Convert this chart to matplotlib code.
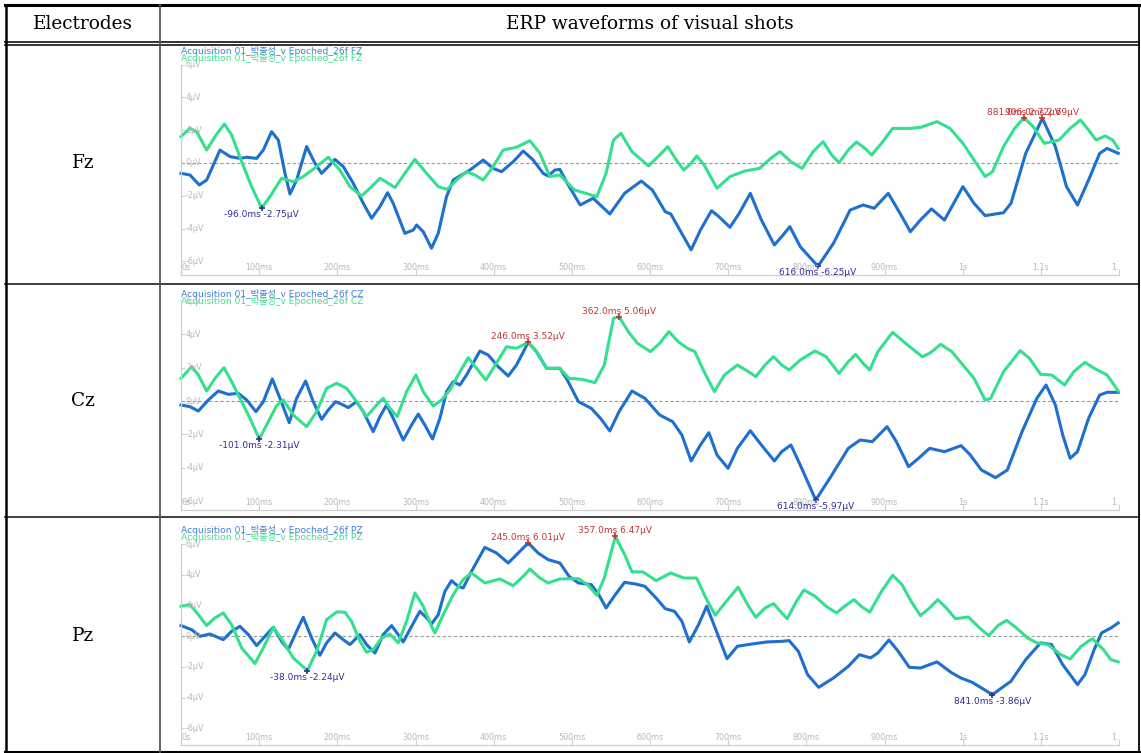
import numpy as np
import matplotlib
matplotlib.use("Agg")
import matplotlib.pyplot as plt
import matplotlib.transforms as mtransforms

# ---------------- data (ms on the recorder axis, uV) ----------------
fz_blue_t = [0, 11.5, 23.4, 32.8, 49.9, 62.7, 75.4, 84.0, 96.8, 105.3, 115.9, 124.5, 133.0, 139.4,
             147.9, 160.7, 171.4, 179.9, 188.4, 196.9, 207.6, 220.4, 233.2, 243.8, 254.5, 264.3,
             271.5, 286.4, 297.1, 301.4, 309.9, 320.5, 329.1, 339.7, 348.3, 358.9, 369.6, 386.6,
             399.4, 410.1, 425.0, 437.8, 450.6, 463.3, 469.7, 478.3, 484.7, 494.2, 510.7, 527.3,
             548.6, 567.5, 588.8, 603.0, 619.5, 626.6, 652.6, 664.5, 678.6, 688.1, 702.3, 714.1,
             728.3, 742.5, 759.1, 768.5, 778.9, 792.2, 814.9, 834.7, 856.0, 872.6, 886.8, 904.8,
             919.9, 933.1, 945.9, 960.1, 976.7, 988.5, 1000.3, 1014.5, 1028.7, 1052.3, 1061.8,
             1080.7, 1102.0, 1118.6, 1132.8, 1146.9, 1161.1, 1175.3, 1184.8, 1199.0]
fz_blue_v = [-0.63, -0.73, -1.34, -1.04, 0.79, 0.39, 0.28, 0.35, 0.28, 0.79, 1.91, 1.40, -0.63, -1.89,
             -1.04, 1.00, -0.02, -0.63, -0.22, 0.22, -0.22, -1.24, -2.46, -3.37, -2.66, -1.81,
             -2.46, -4.29, -4.09, -3.78, -4.19, -5.20, -4.29, -2.05, -1.04, -0.73, -0.43, 0.18,
             -0.33, -0.53, 0.08, 0.73, 0.18, -0.63, -0.79, -0.43, -0.39, -1.24, -2.56, -2.15,
             -3.11, -1.85, -1.10, -1.65, -2.97, -3.11, -5.30, -4.09, -2.91, -3.27, -3.92, -3.07,
             -1.85, -3.48, -5.00, -4.49, -3.88, -5.10, -6.30, -4.90, -2.87, -2.56, -2.76, -1.85,
             -3.07, -4.19, -3.48, -2.80, -3.48, -2.46, -1.44, -2.46, -3.21, -3.03, -2.46,
             0.59, 2.72, 1.00, -1.44, -2.56, -1.04, 0.59, 0.89, 0.59]

fz_green_t = [0, 11.5, 20.0, 32.8, 43.5, 55.4, 64.8, 77.6, 90.4, 103.2, 113.8, 128.7, 143.6, 156.4,
              173.5, 188.4, 203.3, 216.1, 231.0, 241.7, 254.5, 265.1, 273.7, 286.4, 299.2, 314.2,
              329.1, 340.6, 352.5, 365.3, 376.0, 386.6, 399.4, 412.2, 429.2, 446.3, 459.1, 471.9,
              484.7, 503.6, 517.8, 532.0, 543.8, 553.3, 562.8, 576.9, 598.2, 612.4, 622.8, 633.7,
              643.2, 652.6, 659.7, 669.2, 685.7, 702.3, 721.2, 740.1, 754.3, 766.2, 780.3, 794.5,
              808.7, 821.5, 832.4, 841.8, 853.7, 864.1, 875.0, 883.5, 896.2, 910.4, 931.7, 945.9,
              967.2, 983.8, 1000.3, 1014.5, 1028.7, 1038.1, 1052.3, 1066.5, 1078.4, 1090.2,
              1104.4, 1123.3, 1137.5, 1150.7, 1161.1, 1170.6, 1182.4, 1191.9, 1199.0]
fz_green_v = [1.61, 2.11, 1.91, 0.79, 1.61, 2.38, 1.71, 0.08, -1.44, -2.76, -2.05, -0.93, -1.14, -0.83,
              -0.22, 0.35, -0.43, -1.44, -2.01, -1.54, -0.93, -1.24, -1.50, -0.63, 0.22, -0.63,
              -1.44, -1.61, -1.04, -0.53, -0.73, -1.04, -0.22, 0.79, 0.96, 1.36, 0.59, -0.83,
              -0.73, -1.65, -1.85, -2.05, -0.63, 1.40, 1.81, 0.69, -0.18, 0.49, 1.00, 0.18,
              -0.43, -0.02, 0.43, -0.12, -1.54, -0.83, -0.49, -0.33, 0.28, 0.69, 0.08, -0.33,
              0.69, 1.30, 0.49, 0.02, 0.79, 1.28, 0.89, 0.49, 1.20, 2.11, 2.11, 2.17,
              2.52, 2.11, 1.20, 0.18, -0.83, -0.53, 1.00, 2.11, 2.76, 2.22,
              1.20, 1.40, 2.11, 2.62, 2.01, 1.40, 1.65, 1.40, 0.89]

cz_blue_t = [0, 11.5, 22.2, 35.0, 47.7, 60.5, 73.3, 84.0, 95.9, 105.3, 116.8, 126.6, 138.5, 147.9,
             159.4, 169.2, 179.9, 188.4, 197.8, 207.6, 214.0, 224.6, 233.2, 245.9, 254.5, 263.0,
             271.5, 284.3, 295.0, 303.5, 312.0, 321.8, 331.2, 339.7, 348.3, 356.8, 365.3, 382.4,
             393.0, 405.8, 418.6, 429.2, 444.2, 454.8, 467.6, 476.1, 484.7, 494.2, 508.4, 524.9,
             536.7, 548.6, 560.4, 576.9, 593.5, 612.4, 629.0, 640.8, 652.6, 664.5, 675.3, 685.7,
             699.9, 711.8, 728.3, 742.5, 759.1, 768.5, 780.3, 792.2, 812.0, 830.0, 853.7, 868.8,
             884.4, 903.3, 915.2, 930.8, 943.5, 957.7, 976.7, 998.0, 1009.8, 1024.0, 1042.0,
             1057.1, 1076.0, 1094.9, 1106.7, 1118.6, 1128.0, 1137.5, 1146.9, 1161.1, 1175.3,
             1184.8, 1199.0]
cz_blue_v = [-0.24, -0.34, -0.60, 0.06, 0.60, 0.40, 0.46, 0.06, -0.64, -0.04, 1.32, 0.16, -1.30, 0.16,
             1.20, -0.04, -1.10, -0.54, -0.04, -0.24, -0.40, -0.04, -0.64, -1.84, -0.94, -0.24,
             -1.04, -2.34, -1.44, -0.78, -1.44, -2.28, -1.04, 0.56, 1.16, 0.96, 1.56, 3.00,
             2.76, 2.06, 1.50, 2.16, 3.52, 2.96, 1.96, 1.96, 1.96, 1.26, -0.04, -0.44,
             -1.04, -1.80, -0.64, 0.60, 0.16, -0.84, -1.24, -2.04, -3.60, -2.64, -1.90, -3.24,
             -4.04, -2.84, -1.78, -2.64, -3.60, -3.04, -2.64, -3.84, -5.94, -4.64, -2.84, -2.34,
             -2.44, -1.54, -2.44, -3.94, -3.44, -2.84, -3.04, -2.68, -3.24, -4.14, -4.60,
             -4.14, -1.84, 0.16, 0.96, -0.24, -2.04, -3.44, -3.04, -1.04, 0.36,
             0.52, 0.52]

cz_green_t = [0, 13.6, 22.2, 32.8, 43.5, 55.0, 64.8, 75.4, 88.2, 100.2, 109.5, 122.3, 130.9, 143.6,
              160.7, 173.5, 186.3, 199.1, 211.9, 224.6, 237.4, 250.2, 258.7, 267.3, 276.6, 288.6,
              300.5, 309.9, 322.7, 333.3, 344.0, 354.6, 367.4, 378.1, 390.0, 399.4, 416.5, 429.2,
              444.2, 454.8, 467.6, 484.7, 496.5, 513.1, 529.6, 541.5, 553.3, 560.4, 572.2, 584.0,
              600.6, 612.4, 624.2, 636.1, 647.9, 657.4, 669.2, 682.4, 695.2, 711.8, 726.0, 735.4,
              747.2, 758.1, 768.5, 778.0, 792.2, 811.1, 825.3, 841.8, 853.7, 863.1, 872.6, 881.1,
              891.5, 910.4, 927.0, 948.3, 957.7, 971.9, 986.1, 1000.3, 1014.5, 1028.7, 1035.8,
              1052.3, 1073.6, 1085.5, 1099.7, 1113.8, 1130.4, 1142.2, 1156.4, 1168.2, 1184.8,
              1199.0]
cz_green_v = [1.36, 2.06, 1.56, 0.60, 1.36, 2.00, 1.16, 0.16, -1.04, -2.28, -1.44, -0.28, 0.06, -0.84,
              -1.54, -0.64, 0.76, 1.06, 0.76, -0.04, -0.94, -0.24, 0.16, -0.44, -0.94, 0.56,
              1.56, 0.56, -0.30, 0.06, 0.66, 1.56, 2.60, 1.96, 1.26, 1.96, 3.26, 3.16,
              3.52, 2.96, 1.96, 1.96, 1.36, 1.30, 1.10, 2.16, 4.96, 5.06, 4.16, 3.46,
              2.96, 3.46, 4.16, 3.56, 3.16, 2.96, 1.76, 0.56, 1.56, 2.16, 1.76, 1.46,
              2.16, 2.66, 2.16, 1.86, 2.46, 3.00, 2.66, 1.66, 2.36, 2.80, 2.26, 1.86,
              2.96, 4.12, 3.46, 2.66, 2.86, 3.40, 2.96, 2.16, 1.36, 0.06, 0.16,
              1.76, 3.02, 2.56, 1.60, 1.56, 0.96, 1.76, 2.32, 1.96, 1.56,
              0.60]

pz_blue_t = [0, 13.6, 24.3, 37.1, 54.1, 64.8, 75.4, 86.1, 96.8, 107.4, 118.1, 128.7, 137.3, 147.9,
             156.4, 167.1, 177.7, 186.3, 196.9, 207.6, 216.1, 228.9, 237.4, 248.1, 258.7, 269.4,
             277.9, 284.3, 295.0, 305.6, 314.2, 320.5, 329.1, 337.6, 346.1, 354.6, 361.0, 371.7,
             388.7, 403.7, 418.6, 431.4, 444.2, 456.9, 469.7, 484.7, 496.5, 508.4, 524.9, 534.4,
             543.8, 555.7, 567.5, 581.7, 593.5, 607.7, 619.5, 631.3, 640.8, 650.3, 662.1, 672.5,
             683.4, 698.5, 711.8, 730.7, 749.6, 768.5, 778.0, 789.8, 801.6, 815.8, 834.7, 853.7,
             867.9, 882.1, 891.5, 905.7, 917.5, 931.7, 945.9, 967.2, 986.1, 997.9, 1012.1,
             1038.1, 1061.8, 1080.7, 1099.7, 1113.8, 1128.0, 1146.9, 1156.4, 1168.2, 1177.7,
             1189.5, 1199.0]
pz_blue_v = [0.70, 0.43, 0.00, 0.15, -0.22, 0.33, 0.65, 0.11, -0.61, 0.00, 0.59, -0.33, -0.87, 0.33,
             1.24, -0.11, -1.24, -0.43, 0.22, -0.22, -0.54, 0.11, -0.54, -1.09, 0.11, 0.70,
             0.11, -0.37, 0.65, 1.63, 1.20, 0.80, 1.41, 2.93, 3.63, 3.26, 3.15, 4.24,
             5.80, 5.43, 4.78, 5.43, 6.09, 5.43, 5.00, 4.78, 3.91, 3.48, 3.37, 2.72,
             1.85, 2.72, 3.52, 3.41, 3.26, 2.50, 1.80, 1.63, 0.98, -0.37, 0.76, 1.96,
             0.54, -1.46, -0.65, -0.50, -0.37, -0.33, -0.28, -0.98, -2.50, -3.33, -2.72, -1.96,
             -1.20, -1.41, -1.09, -0.24, -0.98, -2.02, -2.07, -1.67, -2.39, -2.72, -3.00,
             -3.80, -2.93, -1.52, -0.43, -0.54, -1.85, -3.15, -2.50, -0.87, 0.22,
             0.54, 0.87]

pz_green_t = [0, 11.5, 22.2, 32.8, 43.5, 54.1, 64.8, 77.6, 94.6, 105.3, 118.1, 130.9, 143.6, 161.6,
              173.5, 186.3, 199.1, 209.7, 218.2, 228.9, 237.4, 246.0, 256.6, 267.3, 277.9, 288.6,
              299.2, 309.9, 320.5, 324.8, 335.5, 348.3, 361.0, 371.7, 388.7, 407.9, 425.0, 437.8,
              446.3, 459.1, 469.7, 484.7, 508.4, 520.2, 532.0, 541.5, 555.7, 567.5, 576.9, 591.1,
              607.7, 626.6, 643.2, 659.7, 671.5, 683.4, 697.6, 712.7, 726.0, 735.4, 747.2, 758.1,
              768.5, 775.6, 787.4, 796.9, 811.1, 825.3, 838.5, 849.0, 860.8, 870.2, 881.1, 896.2,
              910.4, 922.3, 934.1, 945.9, 957.7, 968.1, 979.0, 990.8, 1007.4, 1021.6, 1033.4,
              1045.2, 1056.1, 1068.9, 1083.1, 1094.9, 1109.1, 1125.6, 1137.5, 1151.7, 1165.9,
              1180.1, 1189.5, 1199.0]
pz_green_v = [1.96, 2.07, 1.41, 0.70, 1.20, 1.52, 0.76, -0.76, -1.78, -0.76, 0.59, -0.33, -1.41, -2.24,
              -0.98, 1.09, 1.59, 1.57, 0.98, -0.33, -1.04, -0.87, -0.11, 0.15, -0.43, 0.98,
              2.83, 1.96, 0.65, 0.22, 1.41, 2.72, 3.70, 4.13, 3.48, 3.74, 3.30, 3.91,
              4.39, 3.80, 3.48, 3.74, 3.76, 3.37, 2.67, 3.80, 6.52, 5.33, 4.20, 4.20,
              3.63, 4.13, 3.80, 3.80, 2.50, 1.37, 2.28, 3.20, 1.96, 1.24, 1.85, 2.13,
              1.52, 1.15, 2.28, 3.02, 2.61, 1.96, 1.52, 1.96, 2.39, 1.96, 1.57, 2.93,
              3.98, 3.37, 2.28, 1.35, 1.85, 2.39, 1.85, 1.15, 1.26, 0.54, 0.04,
              0.70, 1.04, 0.54, -0.11, -0.43, -0.54, -1.20, -1.48, -0.65, -0.15,
              -0.87, -1.52, -1.67]

# peak labels: text, time, amplitude, polarity
fz_marks = [("-96.0ms -2.75µV", 103.2, -2.76, "neg"), ("616.0ms -6.25µV", 814.9, -6.30, "neg"),
            ("881.0ms 2.72µV", 1078.4, 2.76, "pos"), ("906.0ms 2.69µV", 1102.0, 2.72, "pos")]
cz_marks = [("-101.0ms -2.31µV", 100.2, -2.28, "neg"), ("246.0ms 3.52µV", 444.2, 3.52, "pos"),
            ("362.0ms 5.06µV", 560.4, 5.06, "pos"), ("614.0ms -5.97µV", 812.0, -5.94, "neg")]
pz_marks = [("-38.0ms -2.24µV", 161.6, -2.24, "neg"), ("245.0ms 6.01µV", 444.2, 6.09, "pos"),
            ("357.0ms 6.47µV", 555.7, 6.52, "pos"), ("841.0ms -3.86µV", 1038.1, -3.80, "neg")]

x_ticks = [0, 100, 200, 300, 400, 500, 600, 700, 800, 900, 1000, 1100, 1200]
x_labels = ["0s", "100ms", "200ms", "300ms", "400ms", "500ms", "600ms", "700ms", "800ms",
            "900ms", "1s", "1.1s", "1."]
y_ticks = [6, 4, 2, 0, -2, -4, -6]
y_labels = ["6µV", "4µV", "2µV", "0µV", "-2µV", "-4µV", "-6µV"]

electrodes = ["Fz", "Cz", "Pz"]
channels = ["FZ", "CZ", "PZ"]
legend_name = "Acquisition 01_박줄성_v Epoched_26f "

# ---------------- layout (pixels) ----------------
W, H = 1141, 753
AX_L, AX_R = 181, 1119
# top of axes (6uV), bottom axis line, ymin, row centre, legend y
panels = [
    dict(top=64.6, bottom=275, ymin=-6.83, mid=163, leg=(51, 58)),
    dict(top=301, bottom=510, ymin=-6.54, mid=401, leg=(294, 301)),
    dict(top=544.3, bottom=745, ymin=-7.09, mid=636, leg=(530, 537)),
]
series = [(fz_blue_t, fz_blue_v, fz_green_t, fz_green_v, fz_marks),
          (cz_blue_t, cz_blue_v, cz_green_t, cz_green_v, cz_marks),
          (pz_blue_t, pz_blue_v, pz_green_t, pz_green_v, pz_marks)]

BLUE = "#1f6fcf"
GREEN = "#34e08e"
LEG_BLUE = "#3f80cc"
LEG_GREEN = "#3fdf90"
NEG_C = "#2d2d92"
POS_C = "#c23434"
TICK_C = "#b8b8b8"
AXIS_C = "#cfcfcf"
SANS = ["DejaVu Sans", "Noto Sans CJK KR"]

fig = plt.figure(figsize=(W / 100, H / 100), dpi=100)
bg = fig.add_axes([0, 0, 1, 1])
bg.set_xlim(0, W)
bg.set_ylim(H, 0)
bg.axis("off")

# table frame
bg.plot([5, 1139], [5, 5], color="black", lw=2.2)
bg.plot([5, 1139], [41.5, 41.5], color="#222222", lw=1.3)
bg.plot([5, 1139], [44.5, 44.5], color="#222222", lw=1.3)
bg.plot([5, 1139], [284, 284], color="#333333", lw=1.3)
bg.plot([5, 1139], [516.5, 516.5], color="#333333", lw=1.3)
bg.plot([5, 1139], [751.5, 751.5], color="black", lw=2.2)
bg.plot([6, 6], [5, 751.5], color="black", lw=1.8)
bg.plot([160, 160], [5, 751.5], color="#555555", lw=1.3)
bg.plot([1139, 1139], [5, 751.5], color="black", lw=1.3)

bg.text(83, 24, "Electrodes", ha="center", va="center", family="DejaVu Serif", fontsize=13.3)
bg.text(650, 24, "ERP waveforms of visual shots", ha="center", va="center",
        family="DejaVu Serif", fontsize=13.3)

for p, (bt, bv, gt, gv, marks), el, ch in zip(panels, series, electrodes, channels):
    bg.text(83, p["mid"], el, ha="center", va="center", family="DejaVu Serif", fontsize=13.3)
    bg.text(AX_L, p["leg"][0], legend_name + ch, color=LEG_BLUE, fontsize=6.6,
            family=SANS, va="center", ha="left")
    bg.text(AX_L, p["leg"][1], legend_name + ch, color=LEG_GREEN, fontsize=6.6,
            family=SANS, va="center", ha="left")

    w_px = AX_R - AX_L
    h_px = p["bottom"] - p["top"]
    ax = fig.add_axes([AX_L / W, 1 - p["bottom"] / H, w_px / W, h_px / H])
    ax.patch.set_alpha(0)
    ax.set_xlim(0, 1200)
    ax.set_ylim(p["ymin"], 6)
    for s in ("top", "right"):
        ax.spines[s].set_visible(False)
    for s in ("left", "bottom"):
        ax.spines[s].set_color(AXIS_C)
        ax.spines[s].set_linewidth(0.9)
    ax.set_xticks(x_ticks)
    ax.set_yticks(y_ticks)
    ax.tick_params(axis="both", direction="in", color=AXIS_C, width=0.8,
                   labelbottom=False, labelleft=False)
    ax.tick_params(axis="x", length=4)
    ax.tick_params(axis="y", length=3)

    xtr = mtransforms.blended_transform_factory(ax.transData, ax.transAxes)
    for i, (xt, lab) in enumerate(zip(x_ticks, x_labels)):
        ha = "left" if i == 0 else ("right" if i == len(x_ticks) - 1 else "center")
        ax.text(xt, 7.5 / h_px, lab, transform=xtr, ha=ha, va="center",
                fontsize=5.8, color=TICK_C)
    ytr = mtransforms.blended_transform_factory(ax.transAxes, ax.transData)
    for yt, lab in zip(y_ticks, y_labels):
        ax.text(5 / w_px, yt, lab, transform=ytr, ha="left", va="center",
                fontsize=5.8, color=TICK_C)

    ax.axhline(0, color="#9a9a9a", lw=0.8, ls=(0, (3, 2)))

    ax.plot(bt, bv, color=BLUE, lw=2.2, solid_joinstyle="round", clip_on=False)
    ax.plot(gt, gv, color=GREEN, lw=2.2, solid_joinstyle="round", clip_on=False)

    for lab, t, v, kind in marks:
        c = NEG_C if kind == "neg" else POS_C
        ax.plot([t], [v], marker="+", ms=4, mew=1.2, color=c, clip_on=False)
        if kind == "neg":
            ax.annotate(lab, (t, v), xytext=(0, -1.5), textcoords="offset points",
                        ha="center", va="top", fontsize=6.5, color=c, annotation_clip=False)
        else:
            ax.annotate(lab, (t, v), xytext=(0, 0.8), textcoords="offset points",
                        ha="center", va="bottom", fontsize=6.5, color=c, annotation_clip=False)

fig.savefig("out.png", dpi=100)
